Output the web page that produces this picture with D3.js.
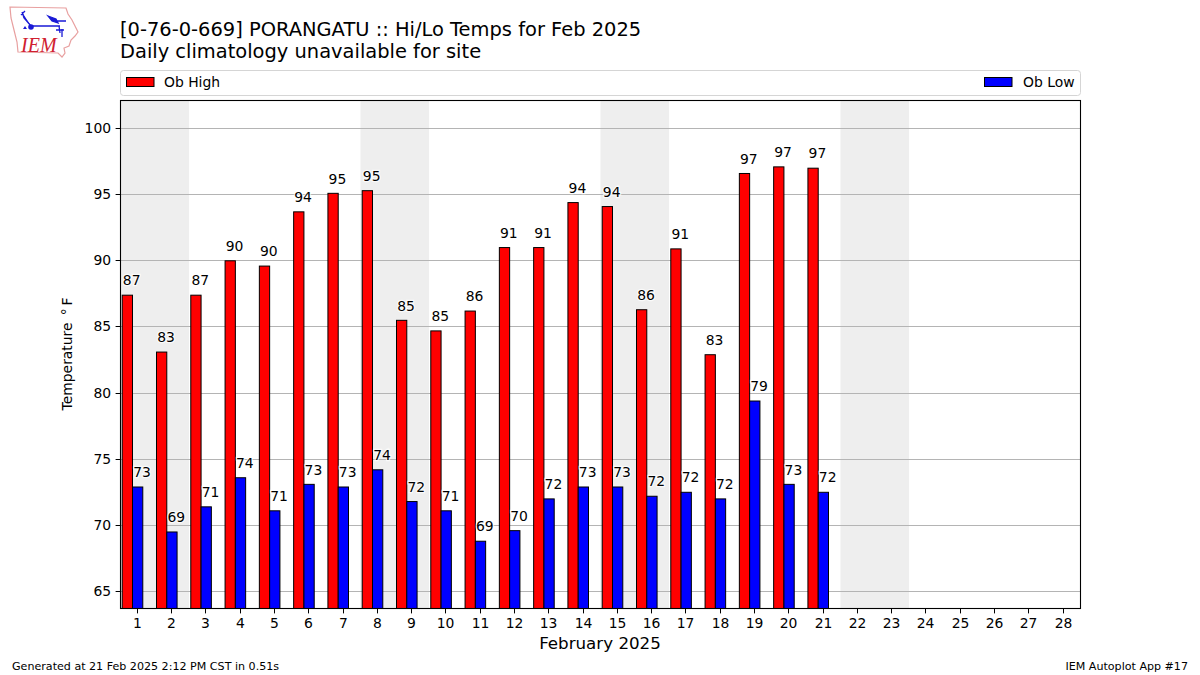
<!DOCTYPE html>
<html><head><meta charset="utf-8">
<script src="https://cdn.jsdelivr.net/npm/d3@7/dist/d3.min.js"></script>
<style>html,body{margin:0;padding:0;background:#fff}svg{display:block}text{font-family:"DejaVu Sans";fill:#000}</style>
</head><body><svg id="c" width="1200" height="675"></svg>
<script>
const days = d3.range(1,29);
const obDays = d3.range(1,22);
const highs = [87.4,83.1,87.4,90,89.6,93.7,95.1,95.3,85.5,84.7,86.2,91,91,94.4,94.1,86.3,90.9,82.9,96.6,97.1,97.0];
const lows = [72.9,69.5,71.4,73.6,71.1,73.1,72.9,74.2,71.8,71.1,68.8,69.6,72,72.9,72.9,72.2,72.5,72,79.4,73.1,72.5];
const highLabels = [87,83,87,90,90,94,95,95,85,85,86,91,91,94,94,86,91,83,97,97,97];
const lowLabels = [73,69,71,74,71,73,73,74,72,71,69,70,72,73,73,72,72,72,79,73,72];
const weekendStarts = [1,8,15,22];
const yTicks = [65,70,75,80,85,90,95,100];
const titleLines = ["[0-76-0-669] PORANGATU :: Hi/Lo Temps for Feb 2025","Daily climatology unavailable for site"];

const L=120.5,R=1080.5,T=100.5,B=608.5;
const svg=d3.select("#c");
const x=d3.scaleLinear().domain([0.5,28.5]).range([L,R]);
const y=d3.scaleLinear().domain([63.715,102.117]).range([B,T]);

svg.append("g").selectAll("rect").data(weekendStarts).join("rect")
 .attr("x",d=>x(d-0.5)).attr("width",d=>x(d+1.5)-x(d-0.5)).attr("y",T).attr("height",B-T).attr("fill","#eeeeee");
svg.append("g").selectAll("line").data(yTicks).join("line")
 .attr("x1",L).attr("x2",R).attr("y1",d=>Math.floor(y(d))+.5).attr("y2",d=>Math.floor(y(d))+.5)
 .attr("stroke","#b4b4b4").attr("stroke-width",1);
const bars=(vals,off,col)=>svg.append("g").selectAll("rect").data(vals).join("rect")
 .attr("x",(d,i)=>x(obDays[i]+off)).attr("width",x(0.3)-x(0)).attr("y",d=>y(d)).attr("height",d=>B-y(d))
 .attr("fill",col).attr("stroke","#000").attr("stroke-width",1);
bars(highs,-0.45,"#ff0000");
bars(lows,-0.15,"#0000ff");
const labels=(vals,labs,off)=>svg.append("g").selectAll("text").data(vals).join("text")
 .attr("x",(d,i)=>x(obDays[i]+off)-.8).attr("y",d=>y(d)-9.8).attr("text-anchor","middle")
 .style("font-size","13.9px").attr("stroke","#fff").attr("stroke-width",2.5).attr("paint-order","stroke").attr("stroke-opacity",.75)
 .text((d,i)=>labs[i]);
labels(highs,highLabels,-0.15);
labels(lows,lowLabels,0.15);
const ax=svg.append("g").attr("transform",`translate(0,${B})`).call(d3.axisBottom(x).tickValues(days).tickFormat(d3.format("d")).tickSize(4.9).tickPadding(4.5));
const ay=svg.append("g").attr("transform",`translate(${L},0)`).call(d3.axisLeft(y).tickValues(yTicks).tickFormat(d3.format("d")).tickSize(4.9).tickPadding(4.5));
[ax,ay].forEach(a=>{a.select(".domain").remove();a.selectAll("text").style("font-size","13.9px").style("font-family","DejaVu Sans").attr("fill","#000");a.selectAll("line").attr("stroke","#000").attr("stroke-width",1)});
ax.selectAll(".tick").attr("transform",d=>`translate(${Math.floor(x(d)-.3)+.5},0)`);
ax.selectAll("text").attr("x",0);
ay.selectAll(".tick").attr("transform",d=>`translate(0,${Math.floor(y(d))+.5})`);
ay.selectAll("text").attr("y",4.6).attr("dy",0);
svg.append("rect").attr("x",L).attr("y",T).attr("width",R-L).attr("height",B-T).attr("fill","none").attr("stroke","#000").attr("stroke-width",1.1);
titleLines.forEach((t,i)=>svg.append("text").attr("x",120).attr("y",35.6+i*22).style("font-size","19.45px").text(t));
svg.append("text").attr("x",600).attr("y",649).attr("text-anchor","middle").style("font-size","16.7px").text("February 2025");
svg.append("text").attr("transform","translate(72,354) rotate(-90)").attr("text-anchor","middle").style("font-size","13.9px").text("Temperature\u00A0\u2009\u00B0\u2009F");
svg.append("text").attr("x",12).attr("y",670).style("font-size","11.1px").text("Generated at 21 Feb 2025 2:12 PM CST in 0.51s");
svg.append("text").attr("x",1188).attr("y",670).attr("text-anchor","end").style("font-size","11.1px").text("IEM Autoplot App #17");
svg.append("rect").attr("x",120.5).attr("y",70.5).attr("width",960).attr("height",25).attr("rx",3).attr("fill","#fff").attr("stroke","#d5d5d5");
[[127,"#ff0000","Ob High",164],[985,"#0000ff","Ob Low",1023]].forEach(([lx,c,t,tx])=>{
 svg.append("rect").attr("x",lx-.5).attr("y",77.5).attr("width",27.5).attr("height",9).attr("fill",c).attr("stroke","#000");
 svg.append("text").attr("x",tx).attr("y",87).style("font-size","13.9px").text(t);
});
const logo=svg.append("g");
logo.append("path").attr("d","M10 7 L66 8 L68 14 L72 20 L75 26 L78 32 L75 36 L71 40 L69 46 L64 48 L65 53 L62 57 L58 53 L18 52 L17 42 L14 30 L11 18 Z").attr("fill","#fff").attr("stroke","#e8a0a0").attr("stroke-width",1.2);
const b="#1a1ad6";
logo.append("path").attr("d","M22 12 L24 18 L31 26 M21 15 L25 11 M31 26 L60 26 M48 16 L56 19 L58 23 L52 21 Z M55 21 L66 21 M59 26 L60 33 M56 30 L64 30 M62 29 L62 37").attr("fill",b).attr("stroke",b).attr("stroke-width",1.3);
logo.append("circle").attr("cx",31).attr("cy",27).attr("r",2.8).attr("fill",b);
logo.append("path").attr("d","M23 29 l2 -3 l2 3 Z").attr("fill",b);
logo.append("text").attr("x",21).attr("y",52).style("font-family","Liberation Serif").style("font-style","italic").style("font-size","20px").style("fill","#d02030").text("IEM");
</script></body></html>
